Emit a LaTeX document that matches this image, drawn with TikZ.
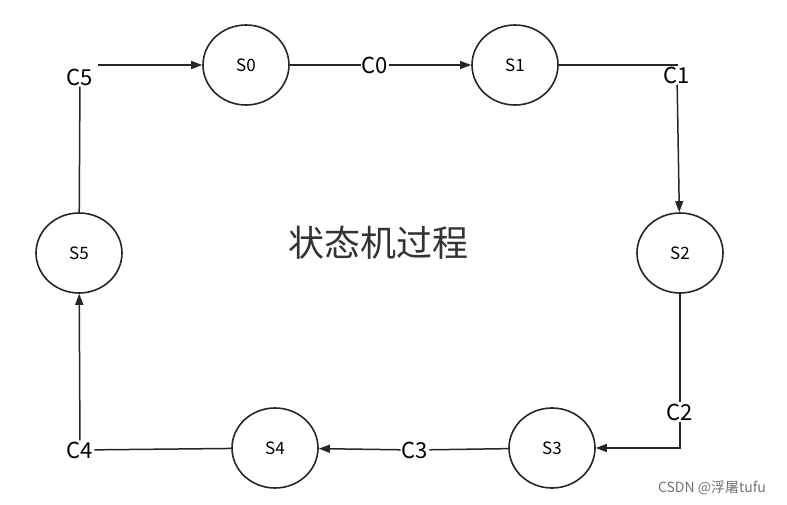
\documentclass[tikz,border=0pt]{standalone}
\usepackage{fontspec}
\setmainfont{Noto Sans CJK SC}
\usetikzlibrary{arrows.meta,shapes.geometric}
\begin{document}
\begin{tikzpicture}[x=1pt,y=-1pt,
  st/.style={draw=black!85,line width=1.6pt,ellipse,minimum width=86pt,minimum height=80pt,font=\fontsize{17}{20}\selectfont},
  lab/.style={fill=white,inner sep=1pt,font=\fontsize{22}{26}\selectfont},
  ln/.style={draw=black!85,line width=1.5pt},
  ar/.style={ln,-{Triangle[length=11pt,width=8pt]}}]
\useasboundingbox (0,0) rectangle (787,505);
\node[st] (s0) at (246,65) {S0};
\node[st] (s1) at (515,65) {S1};
\node[st] (s2) at (680,253) {S2};
\node[st] (s3) at (552,448) {S3};
\node[st] (s4) at (275,448) {S4};
\node[st] (s5) at (79,253) {S5};
\node[lab] (c0) at (375,65) {C0};
\node[lab] (c1) at (677,75) {C1};
\node[lab] (c2) at (680,412) {C2};
\node[lab] (c3) at (415,450) {C3};
\node[lab] (c4) at (80,450) {C4};
\node[lab] (c5) at (80,77) {C5};
\coordinate (c5r) at (98,65);
\path[ln] (s0) -- (c0);
\path[ar] (c0) -- (s1);
\path[ln] (s1.east) -| (c1.north);
\path[ar] (c1) -- (s2);
\path[ln] (s2) -- (c2);
\path[ar] (c2.south) |- (s3.east);
\path[ln] (s3) -- (c3);
\path[ar] (c3) -- (s4);
\path[ln] (s4) -- (c4);
\path[ar] (c4) -- (s5);
\path[ln] (s5) -- (c5);
\path[ar] (c5r) -- (s0.west);
\node[font=\fontsize{36}{40}\selectfont,text=black!80] (t) at (378,243) {状态机过程};
\node[font=\fontsize{14}{16}\selectfont,text=black!55] (w) at (712,488) {CSDN @浮屠tufu};
\end{tikzpicture}
\end{document}
